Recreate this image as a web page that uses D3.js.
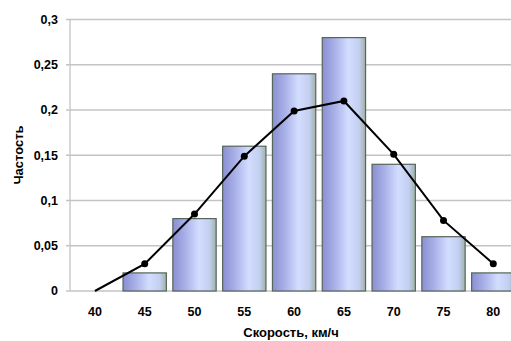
<!DOCTYPE html>
<html>
<head>
<meta charset="utf-8">
<script src="https://cdn.jsdelivr.net/npm/d3@7"></script>
<style>
  html, body { margin: 0; padding: 0; background: #fff; }
  svg { display: block; }
  text { font-family: "Liberation Sans", Arial, sans-serif; font-weight: bold; fill: #000; }
</style>
</head>
<body>
<svg id="chart" width="511" height="341"></svg>
<script>
// Speed classes (km/h)
const speeds = [40, 45, 50, 55, 60, 65, 70, 75, 80];
// Observed relative frequency (histogram bars); no bar at 40
const barFreq = [null, 0.02, 0.08, 0.16, 0.24, 0.28, 0.14, 0.06, 0.02];
// Theoretical frequency (polygon line)
const lineFreq = [0, 0.03, 0.085, 0.149, 0.199, 0.21, 0.151, 0.078, 0.03];
// Y-axis ticks
const yTicks = [0, 0.05, 0.1, 0.15, 0.2, 0.25, 0.3];
const yTickLabels = ["0", "0,05", "0,1", "0,15", "0,2", "0,25", "0,3"];

const svg = d3.select("#chart");
const W = 511, H = 341;
const plotLeft = 70, plotTop = 19.5, plotBottom = 291;
const bandW = 49.8;

const x = d3.scaleBand()
  .domain(speeds)
  .range([plotLeft, plotLeft + bandW * speeds.length])
  .paddingInner(0.13)
  .paddingOuter(0.065);

const y = d3.scaleLinear().domain([0, 0.3]).range([plotBottom, plotTop]);

const defs = svg.append("defs");
const grad = defs.append("linearGradient").attr("id", "barGrad")
  .attr("x1", "0%").attr("x2", "100%").attr("y1", "0%").attr("y2", "0%");
grad.append("stop").attr("offset", "0%").attr("stop-color", "#8a8fd2");
grad.append("stop").attr("offset", "30%").attr("stop-color", "#aab2e8");
grad.append("stop").attr("offset", "60%").attr("stop-color", "#d3ddff");
grad.append("stop").attr("offset", "85%").attr("stop-color", "#c3cff0");
grad.append("stop").attr("offset", "100%").attr("stop-color", "#9fb2a6");

// Horizontal gridlines
svg.append("g")
  .selectAll("line").data(yTicks).join("line")
  .attr("x1", plotLeft - 4).attr("x2", W)
  .attr("y1", d => y(d)).attr("y2", d => y(d))
  .attr("stroke", "#c4c4c4").attr("stroke-width", 1.3);

// Y axis line
svg.append("line")
  .attr("x1", plotLeft).attr("x2", plotLeft)
  .attr("y1", y(0.3)).attr("y2", y(0))
  .attr("stroke", "#c4c4c4").attr("stroke-width", 1.3);

// Y tick labels
svg.append("g")
  .selectAll("text").data(yTicks).join("text")
  .attr("x", plotLeft - 12).attr("y", d => y(d))
  .attr("dy", "0.35em")
  .attr("text-anchor", "end")
  .attr("font-size", 12.5)
  .text((d, i) => yTickLabels[i]);

// Bars
const barData = speeds.map((s, i) => ({ s, v: barFreq[i] })).filter(d => d.v != null);
svg.append("g")
  .selectAll("rect").data(barData).join("rect")
  .attr("x", d => x(d.s))
  .attr("y", d => y(d.v))
  .attr("width", x.bandwidth())
  .attr("height", d => y(0) - y(d.v))
  .attr("fill", "url(#barGrad)")
  .attr("stroke", "#56655a")
  .attr("stroke-width", 1.2);

// Frequency polygon
const cx = s => x(s) + x.bandwidth() / 2;
const pts = speeds.map((s, i) => ({ s, v: lineFreq[i] }));
svg.append("path")
  .datum(pts)
  .attr("fill", "none")
  .attr("stroke", "#000")
  .attr("stroke-width", 2)
  .attr("d", d3.line().x(d => cx(d.s)).y(d => y(d.v)));

svg.append("g")
  .selectAll("circle").data(pts.slice(1)).join("circle")
  .attr("cx", d => cx(d.s)).attr("cy", d => y(d.v))
  .attr("r", 3.5).attr("fill", "#000");

// X tick labels
svg.append("g")
  .selectAll("text").data(speeds).join("text")
  .attr("x", d => cx(d)).attr("y", 316)
  .attr("text-anchor", "middle")
  .attr("font-size", 12.5)
  .text(d => d);

// Axis titles
svg.append("text")
  .attr("x", 291).attr("y", 337)
  .attr("text-anchor", "middle")
  .attr("font-size", 13)
  .text("Скорость, км/ч");

svg.append("text")
  .attr("transform", "translate(23,155) rotate(-90)")
  .attr("text-anchor", "middle")
  .attr("font-size", 13)
  .text("Частость");
</script>
</body>
</html>
